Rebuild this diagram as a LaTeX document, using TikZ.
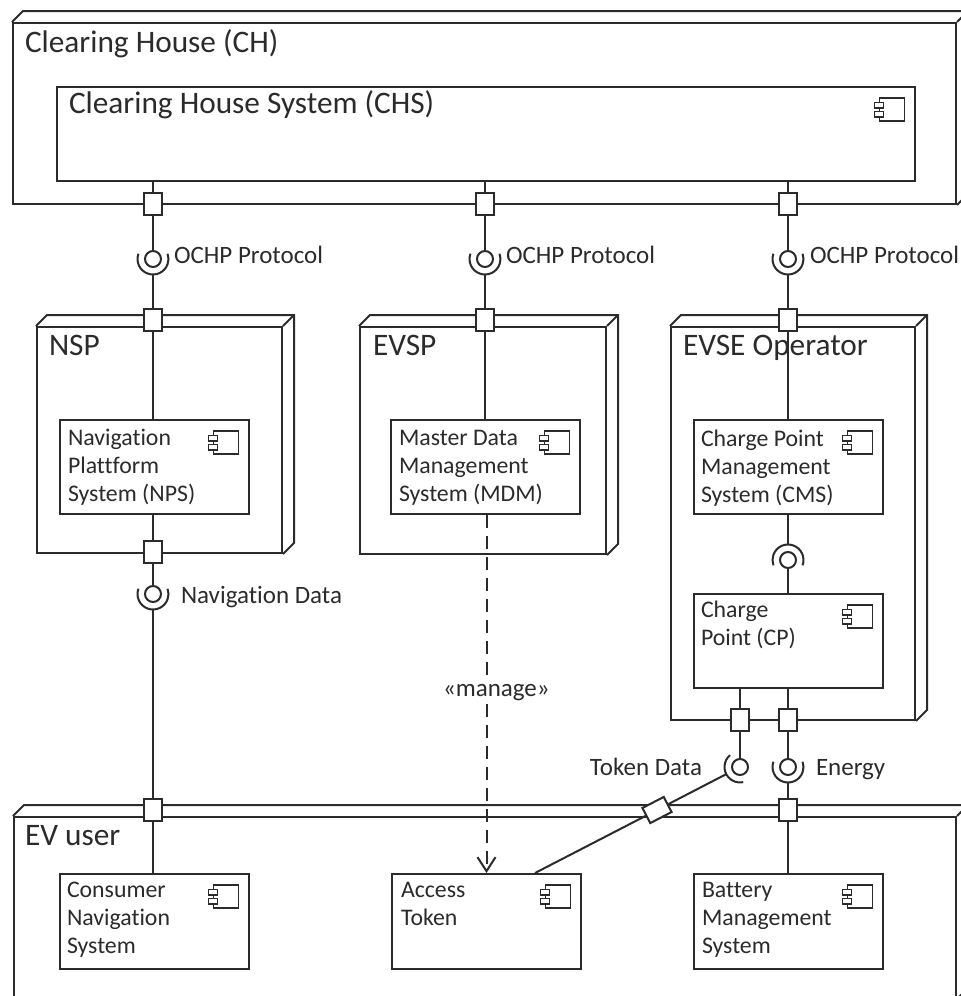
\documentclass[tikz,border=0pt]{standalone}
\usepackage{fontspec}
\setmainfont{Carlito}[Ligatures=NoCommon]
\usetikzlibrary{arrows.meta}
\definecolor{ink}{HTML}{2B2B2B}

% UML component icon in the upper right corner of a component box
\newcommand\compicon[1]{%
  \begin{scope}[shift={(#1.north east)}, line width=1.5pt]
    \draw (-36.5,-12) rectangle (-11.5,-35);
    \draw[fill=white] (-41.5,-16.5) rectangle (-32.5,-22);
    \draw[fill=white] (-41.5,-25.5) rectangle (-32.5,-31);
  \end{scope}}

% top and right faces of a UML node box
\newcommand\threed[1]{%
  \draw[line join=miter] (#1.north west) -- ++(11,11)
    -- ([shift={(11,11)}]#1.north east)
    -- ([shift={(11,11)}]#1.south east) -- (#1.south east);
  \draw (#1.north east) -- ++(11,11);}

\begin{document}
\begin{tikzpicture}[x=1pt, y=1pt, color=ink, line width=2pt,
  front/.style={rectangle, draw, fill=white, inner sep=0, anchor=north west},
  comp/.style={rectangle, draw, fill=white, inner sep=0, anchor=north west,
    minimum width=189pt, minimum height=94pt},
  port/.style={rectangle, draw, fill=white, inner sep=0,
    minimum width=18pt, minimum height=22pt},
  ball/.style={circle, draw, fill=white, inner sep=0, minimum size=16pt},
  big/.style={font=\fontsize{31.3}{36}\selectfont, anchor=base west, inner sep=0},
  ctext/.style={font=\fontsize{23.8}{28}\selectfont, anchor=base west, inner sep=0},
  lbl/.style={font=\fontsize{25}{29}\selectfont, anchor=base west, inner sep=0},
  dep/.style={dash pattern=on 13pt off 8pt, -{Straight Barb[length=14pt, width=18pt]}}]

\useasboundingbox (0,0) rectangle (961,-996);
\clip (0,0) rectangle (961,-996);

% ---------- node boxes ----------
\node[front, minimum width=943pt, minimum height=181pt] (ch) at (12,-22) {};
\threed{ch}
\node[big] (chT) at (24,-52) {Clearing House (CH)};

\node[front, minimum width=245pt, minimum height=226pt] (nspBox) at (36,-326) {};
\threed{nspBox}
\node[big] (nspT) at (48,-355) {NSP};

\node[front, minimum width=246pt, minimum height=227pt] (evspBox) at (359,-326) {};
\threed{evspBox}
\node[big] (evspT) at (372,-355) {EVSP};

\node[front, minimum width=244pt, minimum height=393pt] (evseBox) at (670,-326) {};
\threed{evseBox}
\node[big] (evseT) at (682,-355) {EVSE Operator};

\node[front, minimum width=942pt, minimum height=181pt] (evBox) at (13,-816) {};
\threed{evBox}
\node[big] (evT) at (24,-845) {EV user};

% ---------- components ----------
\node[comp, minimum width=858pt] (chs) at (56,-86) {};
\compicon{chs}
\node[big] (chsT) at (68,-113) {Clearing House System (CHS)};

\node[comp] (nps) at (59,-419) {};
\compicon{nps}
\node[ctext] (npsT) at (67,-445) {\vtop{\hbox{Navigation}\hbox{Plattform}\hbox{System (NPS)}}};

\node[comp] (mdm) at (390,-419) {};
\compicon{mdm}
\node[ctext] (mdmT) at (398,-445) {\vtop{\hbox{Master Data}\hbox{Management}\hbox{System (MDM)}}};

\node[comp] (cms) at (693,-419) {};
\compicon{cms}
\node[ctext] (cmsT) at (700,-446) {\vtop{\hbox{Charge Point}\hbox{Management}\hbox{System (CMS)}}};

\node[comp] (cp) at (693,-593) {};
\compicon{cp}
\node[ctext] (cpT) at (700,-617) {\vtop{\hbox{Charge}\hbox{Point (CP)}}};

\node[comp, minimum height=95pt] (cns) at (59,-873) {};
\compicon{cns}
\node[ctext] (cnsT) at (66,-897) {\vtop{\hbox{Consumer}\hbox{Navigation}\hbox{System}}};

\node[comp, minimum height=95pt] (at) at (391,-873) {};
\compicon{at}
\node[ctext] (atT) at (400,-897) {\vtop{\hbox{Access}\hbox{Token}}};

\node[comp, minimum height=95pt] (bms) at (693,-873) {};
\compicon{bms}
\node[ctext] (bmsT) at (701,-897) {\vtop{\hbox{Battery}\hbox{Management}\hbox{System}}};

% ---------- ports ----------
\node[port] (p1) at (153,-204) {};
\node[port] (p2) at (485,-204) {};
\node[port] (p3) at (788,-204) {};
\node[port] (q1) at (153,-320) {};
\node[port] (q2) at (485,-320) {};
\node[port] (q3) at (788,-320) {};
\node[port] (r1) at (153,-552) {};
\node[port] (s1) at (740,-720) {};
\node[port] (s2) at (788,-720) {};
\node[port] (u1) at (153,-810) {};
\node[port] (u2) at (788,-810) {};
\node[port, minimum width=24pt, minimum height=17pt, rotate=27.4] (u3) at (657,-810) {};

% ---------- provided interfaces (balls) ----------
\node[ball] (b1) at (153,-259) {};
\node[ball] (b2) at (485,-259) {};
\node[ball] (b3) at (788,-259) {};
\node[ball] (bn) at (153,-594) {};
\node[ball] (bc) at (788,-560) {};
\node[ball] (bt) at (740,-767) {};
\node[ball] (be) at (788,-767) {};

% ---------- required interfaces (sockets) ----------
\foreach \b in {b1,b2,b3,bn,be}
  \draw ([shift={(160:15.5pt)}]\b.center) arc[start angle=160, end angle=380, radius=15.5pt];
\draw ([shift={(-20:15.5pt)}]bc.center) arc[start angle=-20, end angle=200, radius=15.5pt];
\draw ([shift={(130:15.5pt)}]bt.center) arc[start angle=130, end angle=282, radius=15.5pt];

% ---------- connectors ----------
% NSP column
\draw (chs.south -| p1) -- (p1);
\draw (p1) -- (b1);
\draw ([yshift=-15.5pt]b1.center) -- (q1);
\draw (q1) -- (q1 |- nps.north);
\draw (nps.south -| r1) -- (r1);
\draw (r1) -- (bn);
\draw ([yshift=-15.5pt]bn.center) -- (u1);
\draw (u1) -- (u1 |- cns.north);

% EVSP column
\draw (chs.south -| p2) -- (p2);
\draw (p2) -- (b2);
\draw ([yshift=-15.5pt]b2.center) -- (q2);
\draw (q2) -- (q2 |- mdm.north);
\draw[dep] ([xshift=1pt]mdm.south) -- ([xshift=1pt]mdm.south |- at.north);

% EVSE column
\draw (chs.south -| p3) -- (p3);
\draw (p3) -- (b3);
\draw ([yshift=-15.5pt]b3.center) -- (q3);
\draw (q3) -- (q3 |- cms.north);
\draw (cms.south -| bc) -- ([yshift=15.5pt]bc.center);
\draw (bc) -- (bc |- cp.north);
\draw (cp.south -| s1) -- (s1);
\draw (cp.south -| s2) -- (s2);
\draw (s1) -- (bt);
\draw (s2) -- (be);
\draw ([yshift=-15.5pt]be.center) -- (u2);
\draw (u2) -- (u2 |- bms.north);

% token data link into the access token
\path (at.north west) ++(144,0) coordinate (atTap);
\draw ([shift={(207.4:15.5pt)}]bt.center) -- (u3);
\draw (u3) -- (atTap);

% ---------- labels ----------
\node[lbl] (l1) at (173,-263) {OCHP Protocol};
\node[lbl] (l2) at (505,-263) {OCHP Protocol};
\node[lbl] (l3) at (809,-263) {OCHP Protocol};
\node[lbl] (l4) at (180,-603) {Navigation Data};
\node[lbl, anchor=base east] (l5) at (703,-775) {Token Data};
\node[lbl] (l6) at (815,-775) {Energy};
\node[lbl, fill=white, inner sep=2pt] (l7) at (440,-696) {«manage»};
\end{tikzpicture}
\end{document}
